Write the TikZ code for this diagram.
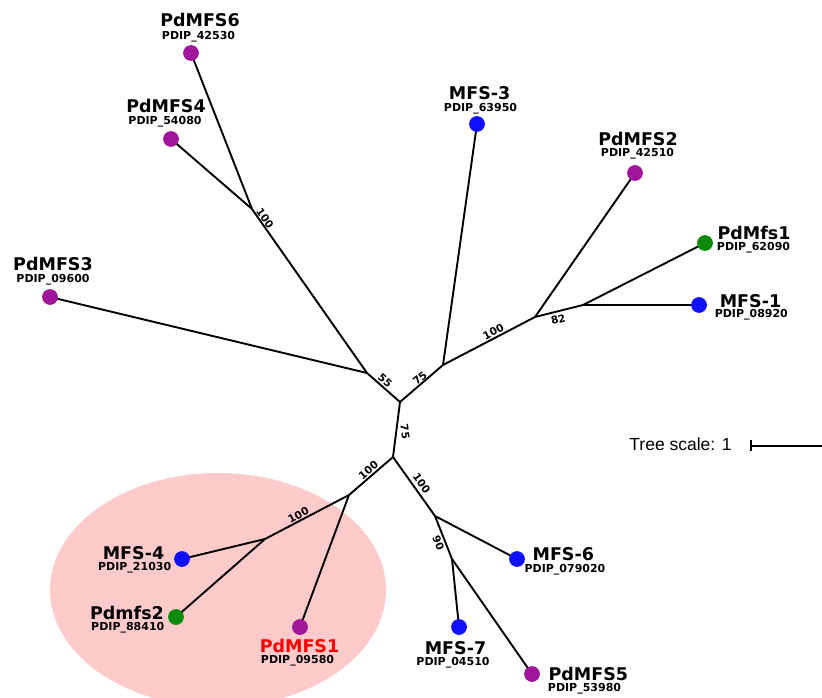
\documentclass[tikz,border=0pt]{standalone}
\usepackage{fontspec}
\setmainfont{DejaVu Sans}
\newfontfamily\scalefont{Liberation Sans}
\definecolor{leafpurple}{HTML}{A0169A}
\definecolor{leafgreen}{HTML}{0A8C0A}
\definecolor{leafblue}{HTML}{1010FF}
\definecolor{cladepink}{HTML}{FFCACA}
\begin{document}
\begin{tikzpicture}[x=1pt,y=-1pt,
  branch/.style={line width=1.9pt,black},
  leafname/.style={font=\fontsize{17.5}{19}\selectfont\bfseries,anchor=base,inner sep=0pt},
  leafid/.style={font=\fontsize{11}{12}\selectfont\bfseries,anchor=base,inner sep=0pt},
  boot/.style={font=\fontsize{10.5}{11}\selectfont\bfseries,inner sep=0pt}]
\useasboundingbox (0,0) rectangle (822,698);
\clip (0,0) rectangle (822,698);
% highlighted clade
\fill[cladepink] (218,590) ellipse [x radius=168pt, y radius=117pt];
% internal nodes
\coordinate (A) at (367,373);
\coordinate (R) at (400,402);
\coordinate (B) at (443,365);
\coordinate (C) at (393,457);
\coordinate (D) at (252,209);
\coordinate (E) at (535,317);
\coordinate (F) at (583,305);
\coordinate (G) at (349,495);
\coordinate (H) at (265,539);
\coordinate (I) at (435,516);
\coordinate (J) at (452,559);
% leaves (positions)
\coordinate (pd6) at (191,53);
\coordinate (pd4) at (171,139);
\coordinate (pd3) at (50,297);
\coordinate (m3) at (477,124);
\coordinate (pd2) at (635,173);
\coordinate (pdm1) at (705,243);
\coordinate (m1) at (699,305);
\coordinate (m4) at (182,559);
\coordinate (pdm2) at (176,617);
\coordinate (pd1) at (300,627);
\coordinate (m6) at (517,559);
\coordinate (m7) at (459,627);
\coordinate (pd5) at (532,674);
% branches
\begin{scope}[branch]
\draw (D) -- (pd6);
\draw (D) -- (pd4);
\draw (D) -- (A);
\draw (pd3) -- (A);
\draw (A) -- (R);
\draw (R) -- (B);
\draw (B) -- (m3);
\draw (B) -- (E);
\draw (E) -- (pd2);
\draw (E) -- (F);
\draw (F) -- (pdm1);
\draw (F) -- (m1);
\draw (R) -- (C);
\draw (C) -- (G);
\draw (G) -- (H);
\draw (H) -- (m4);
\draw (H) -- (pdm2);
\draw (G) -- (pd1);
\draw (C) -- (I);
\draw (I) -- (m6);
\draw (I) -- (J);
\draw (J) -- (m7);
\draw (J) -- (pd5);
\end{scope}
% leaf dots on top
\foreach \n/\c in {pd6/leafpurple,pd4/leafpurple,pd3/leafpurple,m3/leafblue,pd2/leafpurple,pdm1/leafgreen,m1/leafblue,m4/leafblue,pdm2/leafgreen,pd1/leafpurple,m6/leafblue,m7/leafblue,pd5/leafpurple}
  \fill[\c] (\n) circle (7.9pt);
% leaf labels
\node[leafname] (t6) at (200,26.7) {PdMFS6};
\node[leafid] (i6) at (198.5,39.3) {PDIP\_42530};
\node[leafname] (t4) at (166,112.7) {PdMFS4};
\node[leafid] (i4) at (165,124.3) {PDIP\_54080};
\node[leafname] (t3) at (53,270) {PdMFS3};
\node[leafid] (i3) at (53,282.7) {PDIP\_09600};
\node[leafname] (tm3) at (479.7,100) {MFS-3};
\node[leafid] (im3) at (480.5,111.3) {PDIP\_63950};
\node[leafname] (t2) at (638,145.7) {PdMFS2};
\node[leafid] (i2) at (637.5,156.7) {PDIP\_42510};
\node[leafname] (tf1) at (754,239.3) {PdMfs1};
\node[leafid] (if1) at (753.5,250) {PDIP\_62090};
\node[leafname] (tm1) at (750.5,307.3) {MFS-1};
\node[leafid] (im1) at (751.3,317.7) {PDIP\_08920};
\node[leafname] (tm4) at (133.5,559.3) {MFS-4};
\node[leafid] (im4) at (134.7,570.7) {PDIP\_21030};
\node[leafname] (tf2) at (127,619.3) {Pdmfs2};
\node[leafid] (if2) at (127.8,630.7) {PDIP\_88410};
\node[leafname,text=red] (t1) at (299.5,652.7) {PdMFS1};
\node[leafid] (i1) at (297.5,663.3) {PDIP\_09580};
\node[leafname] (tm6) at (563.3,560.7) {MFS-6};
\node[leafid] (im6) at (565,572) {PDIP\_079020};
\node[leafname] (tm7) at (455.5,654) {MFS-7};
\node[leafid] (im7) at (453,665) {PDIP\_04510};
\node[leafname] (t5) at (588.3,680) {PdMFS5};
\node[leafid] (i5) at (584.5,691) {PDIP\_53980};
% bootstrap values
\node[boot,rotate=-55] (b1) at (265,218) {100};
\node[boot,rotate=-41] (b2) at (385,380.7) {55};
\node[boot,rotate=41] (b3) at (420,378.3) {75};
\node[boot,rotate=27.5] (b4) at (493.3,331.7) {100};
\node[boot,rotate=14] (b5) at (558.3,319.3) {82};
\node[boot,rotate=-83] (b6) at (405,431.7) {75};
\node[boot,rotate=41] (b7) at (368.3,470) {100};
\node[boot,rotate=-55] (b8) at (421.7,483.3) {100};
\node[boot,rotate=27.6] (b9) at (298.3,515) {100};
\node[boot,rotate=-68] (b10) at (438.3,543.3) {90};
% tree scale
\node[font=\scalefont\fontsize{17.5}{19}\selectfont,anchor=base,inner sep=0pt] (ts) at (680.5,450) {Tree scale: 1};
\coordinate (sb0) at (751,445.7);
\coordinate (sb1) at (830,445.7);
\draw[line width=1.6pt] (sb0) -- (sb1);
\draw[line width=2pt] ([yshift=-5.5pt]sb0) -- ([yshift=5.5pt]sb0);
\end{tikzpicture}
\end{document}
